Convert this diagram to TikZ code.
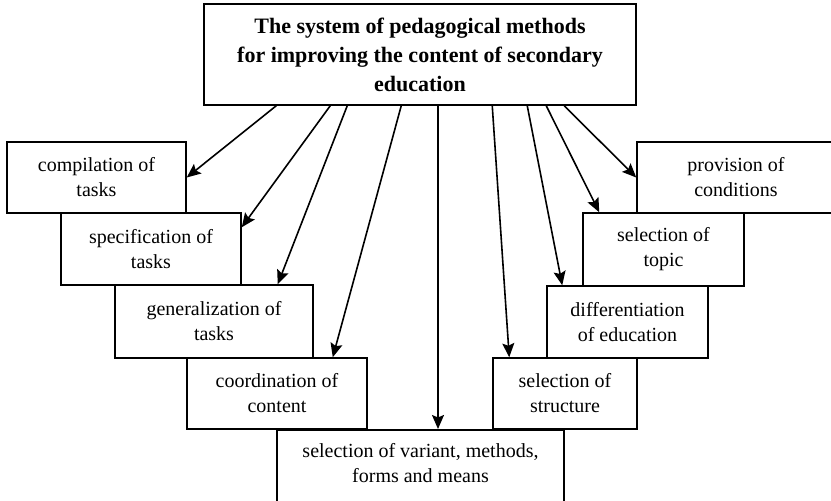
\documentclass[tikz,border=0pt]{standalone}
\usepackage{fontspec}
\setmainfont{Liberation Serif}
\usepackage{tikz}
\usetikzlibrary{positioning,arrows.meta,calc}

\tikzset{
  box/.style={draw, line width=1.5pt, align=center, inner sep=0pt,
    font=\fontsize{20}{25}\selectfont},
  arr/.style={line width=1.6pt, -{Stealth[length=14pt,width=12pt,inset=2.5pt]}}
}

\begin{document}
\begin{tikzpicture}[x=1pt,y=-1pt]
  \path[use as bounding box, clip] (0,0) rectangle (831,501);
  \node[box, minimum width=432pt, minimum height=101pt,
    font=\bfseries\fontsize{22}{29}\selectfont] (top) at (420,54.5)
    {The system of pedagogical methods\\for improving the content of secondary\\education};
  % left steps
  \node[box, minimum width=179pt, minimum height=71pt] (compil) at (96.5,177.5) {compilation of\\tasks};
  \node[box, minimum width=180pt, minimum height=72pt] (specif) at (151,249) {specification of\\tasks};
  \node[box, minimum width=198pt, minimum height=73pt] (general) at (214,321.5) {generalization of\\tasks};
  \node[box, minimum width=180pt, minimum height=71pt] (coord) at (277,393.5) {coordination of\\content};
  % right steps
  \node[box, minimum width=198pt, minimum height=71pt] (provis) at (736,177.5) {provision of\\conditions};
  \node[box, minimum width=161pt, minimum height=73pt] (topic) at (663.5,249.5) {selection of\\topic};
  \node[box, minimum width=161pt, minimum height=72pt] (differ) at (627.5,322) {differentiation\\of education};
  \node[box, minimum width=144pt, minimum height=71pt] (struct) at (565,393.5) {selection of\\structure};
  % bottom
  \node[box, minimum width=287pt, anchor=north, inner ysep=14pt, text depth=42pt] (variant) at (420.5,429)
    {selection of variant, methods,\\forms and means};

  \draw[arr] ($(top.south west)+(73,0)$) -- (compil.east);
  \draw[arr] ($(top.south west)+(127,0)$) -- ($(specif.north east)+(0,15)$);
  \draw[arr] ($(top.south west)+(144,0)$) -- ($(general.north east)+(-36,0)$);
  \draw[arr] ($(top.south west)+(198,0)$) -- ($(coord.north east)+(-35,0)$);
  \draw[arr] ($(top.south)+(18,0)$) -- ($(variant.north)+(17.5,0)$);
  \draw[arr] ($(top.south west)+(289,0)$) -- ($(struct.north west)+(17,0)$);
  \draw[arr] ($(top.south west)+(324,0)$) -- ($(differ.north west)+(16,0)$);
  \draw[arr] ($(top.south west)+(343,0)$) -- ($(topic.north west)+(17,0)$);
  \draw[arr] ($(top.south west)+(361,0)$) -- (provis.west);
\end{tikzpicture}
\end{document}
